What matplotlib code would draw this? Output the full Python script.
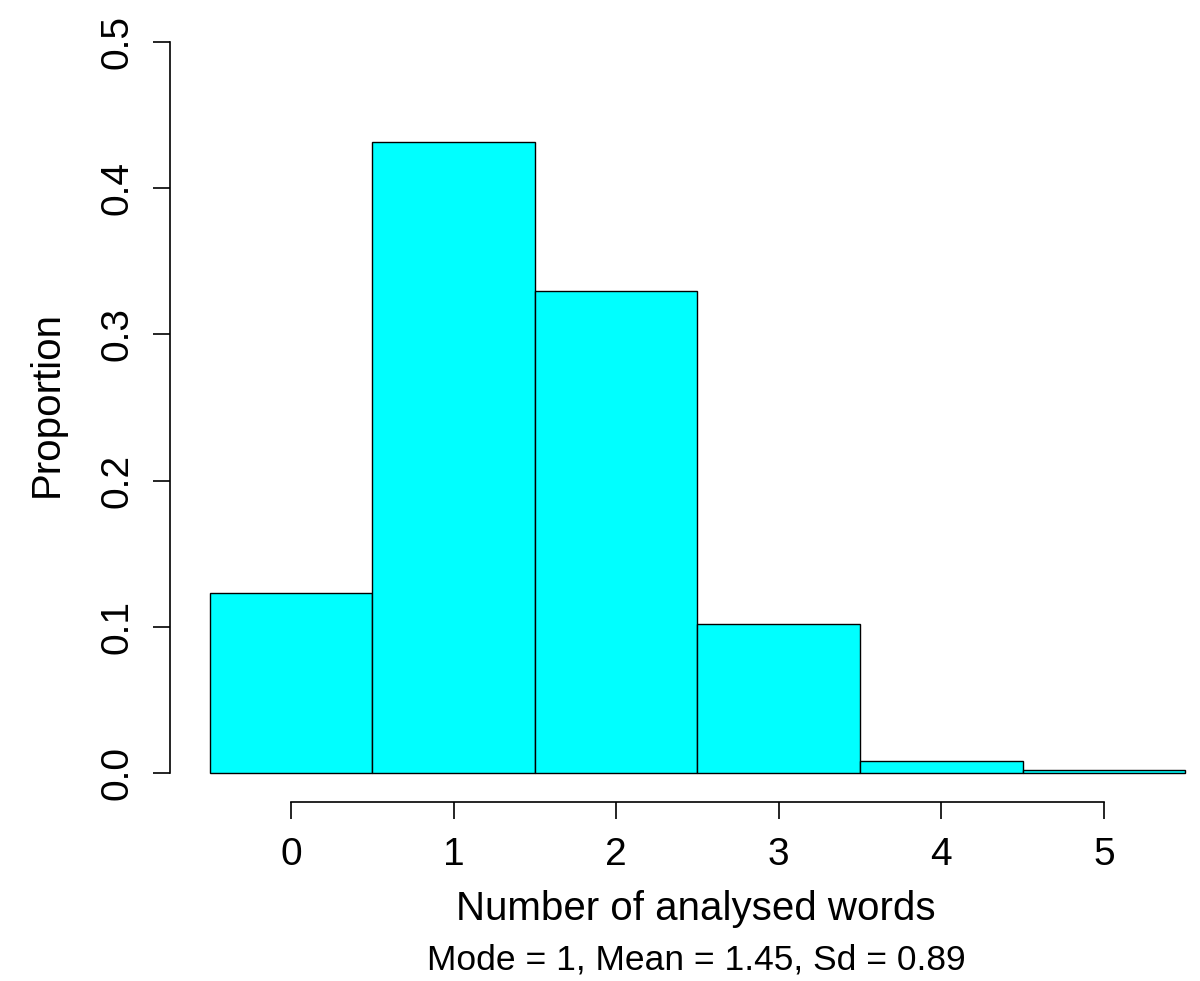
import matplotlib.pyplot as plt
import numpy as np

plt.rcParams['font.family'] = ['Liberation Sans', 'DejaVu Sans']

# proportions
words = [0, 1, 2, 3, 4, 5]
proportion = [0.123, 0.432, 0.330, 0.102, 0.008, 0.002]
xticks = [0, 1, 2, 3, 4, 5]
yticks = [0.0, 0.1, 0.2, 0.3, 0.4, 0.5]

W, H = 1200, 981
fig = plt.figure(figsize=(W / 100, H / 100), dpi=100)
# axes box in pixels: left 170, right 1200, bottom 802, top 13
ax = fig.add_axes([170 / W, 1 - 802 / H, (1200 - 170) / W, (802 - 13) / H])

ax.bar(words, proportion, width=1.0, color='#00FFFF', edgecolor='black', linewidth=1.0)

ax.set_xlim(-0.744, (1200 - 291) / 162.6)
ax.set_ylim(-0.02, 0.52)

for s in ['top', 'right']:
    ax.spines[s].set_visible(False)
ax.spines['left'].set_bounds(0, 0.5)
ax.spines['bottom'].set_bounds(0, 5)
ax.spines['left'].set_linewidth(1.2)
ax.spines['bottom'].set_linewidth(1.2)

ax.set_xticks(xticks)
ax.set_xticklabels([str(v) for v in xticks])
ax.set_yticks(yticks)
ax.set_yticklabels(['%.1f' % v for v in yticks], rotation=90, va='center')
ax.tick_params(axis='both', length=12.5, width=1.2, labelsize=28)
ax.tick_params(axis='x', pad=13)
ax.tick_params(axis='y', pad=12)

fig.text(696 / W, 1 - 909 / H, 'Number of analysed words', ha='center', va='center', fontsize=29)
fig.text(696 / W, 1 - 960 / H, 'Mode = 1, Mean = 1.45, Sd = 0.89', ha='center', va='center', fontsize=25.5)
fig.text(47 / W, 1 - 404 / H, 'Proportion', ha='center', va='center', rotation=90, fontsize=29)

fig.savefig('out.png', dpi=100)
